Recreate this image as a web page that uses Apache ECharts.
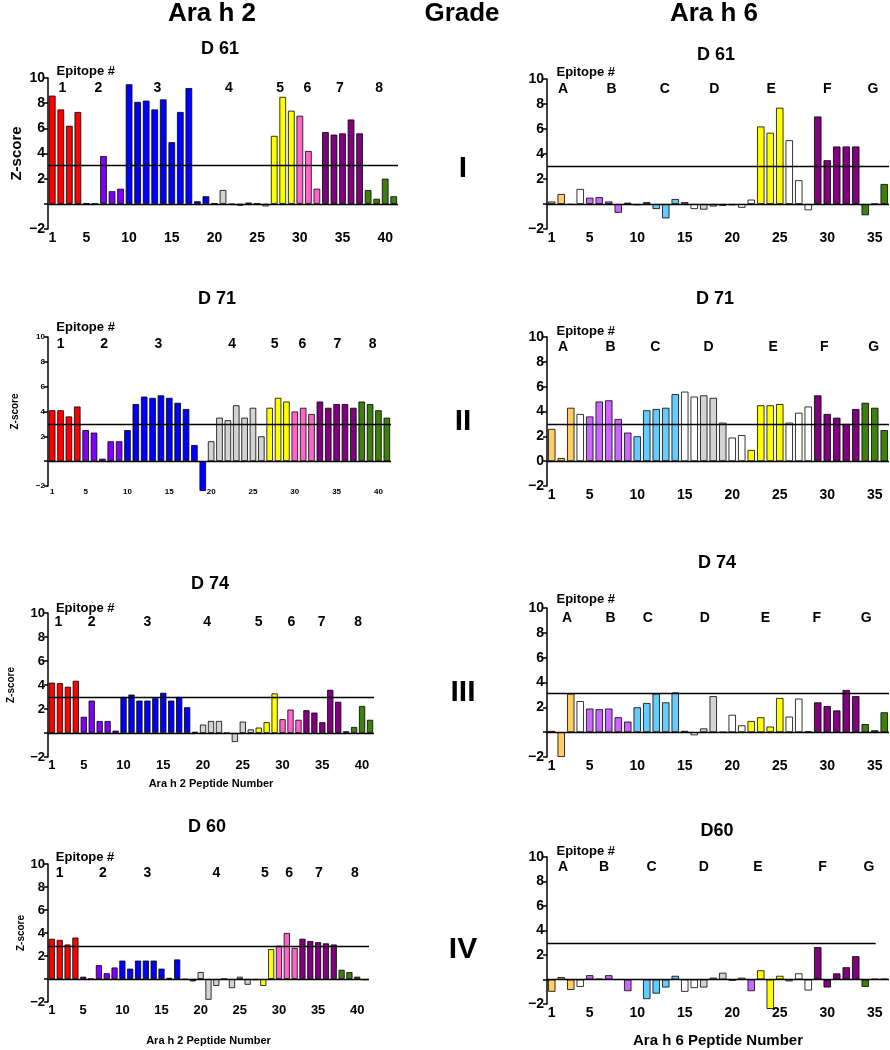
<!DOCTYPE html>
<html>
<head>
<meta charset="utf-8">
<title>Ara h 2 / Ara h 6 peptide Z-scores by grade</title>
<script src="https://cdn.jsdelivr.net/npm/echarts@6/dist/echarts.min.js"></script>
<style>
html, body { margin: 0; padding: 0; background: #fff; }
#main { width: 890px; height: 1050px; }
</style>
</head>
<body>
<div id="main"></div>
<script>
// peptide tick labels shown on the x axes
var H2_TICKS = [1, 5, 10, 15, 20, 25, 30, 35, 40];
var H6_TICKS = [1, 5, 10, 15, 20, 25, 30, 35];

// epitope names
var H2_EPITOPES = ['1', '2', '3', '4', '5', '6', '7', '8'];
var H6_EPITOPES = ['A', 'B', 'C', 'D', 'E', 'F', 'G'];

// epitope group of every peptide (one letter per bar)
var H2_GROUPS = 'RRRR' + 'PPPPP' + 'BBBBBBBBBB' + 'GGGGGGG' + 'YYY' + 'KKK' + 'DDDDD' + 'NNNN';
var H6_GROUPS = 'OOO' + 'W' + 'VVVVV' + 'LLLLL' + 'WW' + 'GGG' + 'WW' + 'YYYY' + 'WWW' + 'DDDDD' + 'NNN';
var H6_GROUPS_D61 = 'OOO' + 'W' + 'VVVVV' + 'LLLLL' + 'WW' + 'GGG' + 'WWW' + 'YYY' + 'WWW' + 'DDDDD' + 'NNN';
var H6_GROUPS_D60 = 'OOO' + 'W' + 'VVVVV' + 'LLLLL' + 'WW' + 'GGG' + 'WW' + 'V' + 'YYY' + 'WWW' + 'DDDDD' + 'NNN';

// Z-scores, Ara h 2 (41 peptides)
var D61_H2 = [8.6, 7.5, 6.2, 7.3, 0.05, 0, 3.8, 1.0, 1.2, 9.5, 8.1, 8.2, 7.5, 8.3, 4.9, 7.3, 9.2, 0.2, 0.6, 0.05,
  1.1, -0.05, -0.15, 0.1, 0, -0.2, 5.4, 8.5, 7.4, 7.0, 4.2, 1.2, 5.7, 5.5, 5.6, 6.7, 5.6, 1.1, 0.4, 2.0, 0.6];
var D71_H2 = [4.1, 4.1, 3.6, 4.4, 2.5, 2.3, 0.2, 1.6, 1.6, 2.5, 4.6, 5.2, 5.1, 5.3, 5.1, 4.7, 4.2, 1.3, -2.4, 1.6,
  3.5, 3.3, 4.5, 3.5, 4.3, 2.0, 4.3, 5.1, 4.8, 4.0, 4.3, 3.8, 4.8, 4.3, 4.6, 4.6, 4.3, 4.8, 4.6, 4.1, 3.5];
var D74_H2 = [4.2, 4.15, 3.85, 4.35, 1.35, 2.7, 1.0, 1.0, 0.2, 3.0, 3.2, 2.7, 2.7, 2.9, 3.35, 2.7, 3.0, 2.15, 0.1, 0.7,
  1.0, 1.0, 0, -0.75, 0.95, 0.3, 0.45, 0.9, 3.3, 1.15, 1.95, 1.1, 1.9, 1.7, 0.9, 3.6, 2.6, 0.15, 0.5, 2.25, 1.1];
var D60_H2 = [3.5, 3.4, 3.0, 3.6, 0.2, 0, 1.2, 0.5, 1.0, 1.6, 0.9, 1.6, 1.6, 1.6, 0.9, 0.1, 1.7, -0.05, -0.2, 0.6,
  -1.8, -0.6, 0, -0.8, 0.2, -0.5, -0.1, -0.6, 2.6, 2.9, 4.0, 2.7, 3.5, 3.3, 3.2, 3.1, 3.0, 0.8, 0.6, 0.2, -0.1];

// Z-scores, Ara h 6 (36 peptides)
var D61_H6 = [0.2, 0.8, -0.05, 1.2, 0.5, 0.55, 0.2, -0.7, 0.1, -0.1, 0.15, -0.4, -1.15, 0.4, 0.15, -0.4, -0.45, -0.2,
  -0.15, -0.1, -0.3, 0.35, 6.2, 5.7, 7.7, 5.1, 1.9, -0.5, 7.0, 3.5, 4.6, 4.6, 4.6, -0.9, 0, 1.6];
var D71_H6 = [2.6, 0.25, 4.3, 3.8, 3.6, 4.8, 4.9, 3.4, 2.3, 2.0, 4.1, 4.2, 4.3, 5.4, 5.6, 5.2, 5.3, 5.1,
  3.1, 1.9, 2.1, 0.9, 4.5, 4.5, 4.6, 3.1, 3.9, 4.4, 5.3, 3.8, 3.5, 3.0, 4.2, 4.7, 4.3, 2.5];
var D74_H6 = [0.1, -2.0, 3.1, 2.5, 1.9, 1.85, 1.9, 1.2, 0.85, 2.0, 2.35, 3.1, 2.4, 3.2, 0.1, -0.25, 0.3, 2.9,
  0, 1.4, 0.55, 0.9, 1.2, 0.45, 2.75, 1.25, 2.7, 0.05, 2.4, 2.1, 1.75, 3.4, 2.9, 0.65, 0.15, 1.6];
var D60_H6 = [-1.0, 0.2, -0.85, -0.6, 0.35, 0.05, 0.35, 0, -0.95, 0, -1.6, -1.15, -0.65, 0.3, -1.0, -0.7, -0.65, 0.15,
  0.55, -0.1, 0.15, -0.95, 0.75, -2.4, 0.3, -0.15, 0.5, -0.9, 2.65, -0.65, 0.5, 1.0, 1.9, -0.6, 0.05, 0.05];

// where each epitope label sits (peptide number)
var D61_H2_EPI = [2.2, 6.4, 13.3, 21.7, 27.7, 30.9, 34.7, 39.3];
var D71_H2_EPI = [2.0, 7.2, 13.7, 22.5, 27.6, 30.9, 35.1, 39.3];
var D74_H2_EPI = [1.8, 6.0, 13.0, 20.5, 27.0, 31.1, 34.9, 39.5];
var D60_H2_EPI = [2.0, 7.5, 13.2, 22.0, 28.2, 31.3, 35.1, 39.7];
var D61_H6_EPI = [2.2, 7.3, 12.9, 18.1, 24.1, 30.0, 34.8];
var D71_H6_EPI = [2.2, 7.2, 11.9, 17.5, 24.3, 29.7, 34.9];
var D74_H6_EPI = [2.6, 7.2, 11.1, 17.1, 23.5, 28.9, 34.1];
var D60_H6_EPI = [2.2, 6.5, 11.5, 17.0, 22.7, 29.5, 34.4];

// positivity cut-off line (Z-score) and where it stops (peptide)
var CUTOFFS = [3.05, 3.0, 3.0, 3.0, 2.95, 3.1, 2.85, 3.0];
var CUTOFF_ENDS = [41.5, 36.5, 41.5, 36.5, 41.5, 36.5, 41.5, 35.1];

var PANELS = [
  {name: 'D 61', vals: D61_H2, groups: H2_GROUPS, epi: H2_EPITOPES, epiPos: D61_H2_EPI, ticks: H2_TICKS},
  {name: 'D 61', vals: D61_H6, groups: H6_GROUPS_D61, epi: H6_EPITOPES, epiPos: D61_H6_EPI, ticks: H6_TICKS},
  {name: 'D 71', vals: D71_H2, groups: H2_GROUPS, epi: H2_EPITOPES, epiPos: D71_H2_EPI, ticks: H2_TICKS},
  {name: 'D 71', vals: D71_H6, groups: H6_GROUPS, epi: H6_EPITOPES, epiPos: D71_H6_EPI, ticks: H6_TICKS},
  {name: 'D 74', vals: D74_H2, groups: H2_GROUPS, epi: H2_EPITOPES, epiPos: D74_H2_EPI, ticks: H2_TICKS},
  {name: 'D 74', vals: D74_H6, groups: H6_GROUPS, epi: H6_EPITOPES, epiPos: D74_H6_EPI, ticks: H6_TICKS},
  {name: 'D 60', vals: D60_H2, groups: H2_GROUPS, epi: H2_EPITOPES, epiPos: D60_H2_EPI, ticks: H2_TICKS},
  {name: 'D60', vals: D60_H6, groups: H6_GROUPS_D60, epi: H6_EPITOPES, epiPos: D60_H6_EPI, ticks: H6_TICKS}
];

var GRADES = ['I', 'II', 'III', 'IV'];

// ---- styling / layout ----
var PALETTE = {
  R: '#ff0000', P: '#8000ff', B: '#0000ff', G: '#d3d3d3', Y: '#ffff00', K: '#ff66cc',
  D: '#800080', N: '#3f7f12', O: '#ffcc66', W: '#ffffff', V: '#cc66ff', L: '#66ccff'
};
var FONT = 'Liberation Sans, Arial, sans-serif';

var LAYOUT = [
  {box: [48, 78, 350, 151], title: [220, 49], tick: 14, epiY: 9.2, headY: 10.55, yName: [15, 24]},
  {box: [547, 79, 342, 150], title: [716, 55], tick: 14, epiY: 9.2, headY: 10.55, showZero: false},
  {box: [48, 337, 343, 149], title: [217, 299], tick: 8, epiY: 9.45, headY: 10.8, yName: [10, 28]},
  {box: [547, 337, 342, 149], title: [715, 299], tick: 14, epiY: 9.2, headY: 10.45, showZero: true},
  {box: [48, 613, 326, 144], title: [210, 584], tick: 13, epiY: 9.2, headY: 10.35, yName: [10, 32],
    xName: ['Ara h 2 Peptide Number', 11, 21]},
  {box: [547, 608, 342, 149], title: [717, 563], tick: 14, epiY: 9.2, headY: 10.7},
  {box: [48, 864, 321, 138], title: [207, 827], tick: 13, epiY: 9.2, headY: 10.55, yName: [10, 20],
    xName: ['Ara h 2 Peptide Number', 11, 33]},
  {box: [547, 857, 342, 147], title: [717, 831], tick: 14, epiY: 9.2, headY: 10.45,
    xName: ['Ara h 6 Peptide Number', 15, 29]}
];
var HEAD_X = [212, 462, 714];
var GRADE_Y = [169, 422, 693, 950];
var AXIS_TAIL = -2.9; // y axis line runs a little past -2

function centeredText(txt, x, y, font) {
  return {
    type: 'text', x: x, y: y, silent: true,
    style: {text: txt, align: 'center', verticalAlign: 'middle', textAlign: 'center', textVerticalAlign: 'middle', font: font, fill: '#000'}
  };
}

var chart = echarts.init(document.getElementById('main'));

var option = {
  animation: false,
  backgroundColor: '#fff',
  textStyle: {fontFamily: FONT},
  grid: [], xAxis: [], yAxis: [], series: [],
  graphic: [
    centeredText('Ara h 2', HEAD_X[0], 14, 'bold 26px "Liberation Sans", Arial'),
    centeredText('Grade', HEAD_X[1], 14, 'bold 26px "Liberation Sans", Arial'),
    centeredText('Ara h 6', HEAD_X[2], 14, 'bold 26px "Liberation Sans", Arial')
  ]
};

GRADES.forEach(function (g, k) {
  option.graphic.push(centeredText(g, 463, GRADE_Y[k], 'bold 30px "Liberation Sans", Arial'));
});

PANELS.forEach(function (p, i) {
  var L = LAYOUT[i];
  var n = p.vals.length;
  var cats = [];
  for (var k = 1; k <= n; k++) cats.push(String(k));

  option.graphic.push(centeredText(p.name, L.title[0], L.title[1], 'bold 18px "Liberation Sans", Arial'));

  option.grid.push({left: L.box[0], top: L.box[1], width: L.box[2], height: L.box[3]});

  var xCat = {
    type: 'category', gridIndex: i, data: cats,
    axisLine: {show: false}, axisTick: {show: false}, splitLine: {show: false},
    axisLabel: {
      interval: function (idx) { return p.ticks.indexOf(idx + 1) >= 0; },
      fontSize: L.tick, fontWeight: 'bold', color: '#000', margin: 2, fontFamily: FONT
    }
  };
  if (L.xName) {
    xCat.name = L.xName[0];
    xCat.nameLocation = 'middle';
    xCat.nameGap = L.xName[2];
    xCat.nameTextStyle = {fontSize: L.xName[1], fontWeight: 'bold', color: '#000', fontFamily: FONT};
  }
  option.xAxis.push(xCat);
  option.xAxis.push({type: 'value', gridIndex: i, min: 0.5, max: n + 0.5, show: false});

  var yAx = {
    type: 'value', gridIndex: i, min: -2, max: 10, interval: 2,
    splitLine: {show: false},
    axisLine: {show: true, lineStyle: {color: '#000', width: 1.5}},
    axisTick: {show: true, length: 4, lineStyle: {color: '#000', width: 1.5}},
    axisLabel: {
      fontSize: L.tick, fontWeight: 'bold', color: '#000', margin: 3, fontFamily: FONT,
      formatter: function (v) {
        if (v === 0) return L.showZero ? '0' : '';
        return v < 0 ? '\u2212' + Math.abs(v) : String(v);
      }
    }
  };
  if (L.yName) {
    yAx.name = 'Z-score';
    yAx.nameLocation = 'middle';
    yAx.nameRotate = 90;
    yAx.nameGap = L.yName[1];
    yAx.nameTextStyle = {fontSize: L.yName[0], fontWeight: 'bold', color: '#000', fontFamily: FONT};
  }
  option.yAxis.push(yAx);

  option.series.push({
    type: 'bar', xAxisIndex: 2 * i, yAxisIndex: i, silent: true, clip: false,
    barCategoryGap: '22%',
    itemStyle: {borderColor: '#000', borderWidth: 0.8},
    data: p.vals.map(function (v, k) {
      return {value: v, itemStyle: {color: PALETTE[p.groups.charAt(k)]}};
    })
  });

  var labels = p.epiPos.map(function (x, k) {
    return {value: [x, L.epiY], name: p.epi[k]};
  });
  labels.push({value: [1.5, L.headY], name: 'Epitope #', label: {align: 'left', fontSize: 13}});

  option.series.push({
    type: 'scatter', xAxisIndex: 2 * i + 1, yAxisIndex: i, silent: true, clip: false,
    symbolSize: 0, itemStyle: {color: '#000', opacity: 1},
    label: {
      show: true, position: 'inside', formatter: '{b}', fontSize: 14, fontWeight: 'bold',
      color: '#000', opacity: 1, textBorderWidth: 0, textBorderColor: 'transparent', fontFamily: FONT
    },
    data: labels,
    markLine: {
      silent: true, symbol: ['none', 'none'], animation: false,
      label: {show: false},
      lineStyle: {color: '#000', width: 1.3, type: 'solid', opacity: 1},
      data: [
        [{coord: [0.5, 0]}, {coord: [n + 0.5, 0]}],
        [{coord: [0.5, CUTOFFS[i]]}, {coord: [CUTOFF_ENDS[i], CUTOFFS[i]]}],
        [{coord: [0.5, -2]}, {coord: [0.5, AXIS_TAIL], lineStyle: {width: 1.5}}]
      ]
    }
  });
});

chart.setOption(option);
window.onresize = chart.resize;
</script>
</body>
</html>
